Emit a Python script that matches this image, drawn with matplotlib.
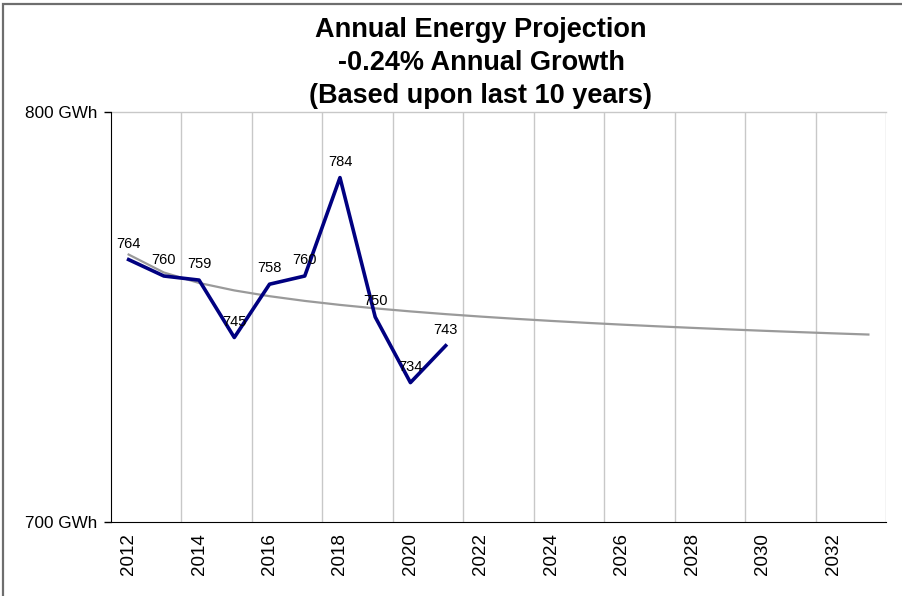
import matplotlib
matplotlib.use("Agg")
import matplotlib.pyplot as plt
import matplotlib.patches as patches
import numpy as np

plt.rcParams['font.family'] = ['Liberation Sans', 'DejaVu Sans']

# data
years = list(range(2012, 2034))
actual_years = list(range(2012, 2022))
actual = [764, 760, 759, 745, 758, 760, 784, 750, 734, 743]

title_lines = ["Annual Energy Projection", "-0.24% Annual Growth", "(Based upon last 10 years)"]
y_ticks = [700, 800]
y_ticklabels = ["700 GWh", "800 GWh"]

# logarithmic trendline fitted to the actual values (as Excel does)
xa = np.arange(1, len(actual) + 1)
b, a = np.polyfit(np.log(xa), actual, 1)
xt = np.arange(1, len(years) + 1)
trend = a + b * np.log(xt)

fig = plt.figure(figsize=(9.03, 5.96), dpi=100)
ax = fig.add_axes([111 / 903, 1 - 522 / 596, 775 / 903, 410 / 596])

pos = np.arange(len(years))
ax.plot(pos, trend, color="#9a9a9a", lw=1.6, zorder=2)
ax.plot(pos[:len(actual)], actual, color="#000080", lw=2.6, zorder=3)

for i, v in enumerate(actual):
    ax.annotate(str(v), (pos[i], v), xytext=(0, 8.5), textcoords="offset points",
                ha="center", va="baseline", fontsize=10.5, color="black", zorder=4)

ax.set_xlim(-0.5, len(years) - 0.5)
ax.set_ylim(700, 800)

# vertical gridlines every two categories on the boundaries
for g in np.arange(1.5, len(years), 2):
    ax.axvline(g, color="#c8c8c8", lw=1, zorder=1)
ax.axhline(800, color="#c8c8c8", lw=1, zorder=1, clip_on=False)

ax.set_xticks(pos[::2])
ax.set_xticklabels([str(y) for y in years[::2]], rotation=90, fontsize=13.5)
ax.tick_params(axis="x", length=0, pad=8)
ax.set_yticks(y_ticks)
ax.set_yticklabels(y_ticklabels, fontsize=12.3)
ax.tick_params(axis="y", length=5, width=1, direction="out", pad=5)

for s in ["top", "right"]:
    ax.spines[s].set_visible(False)
ax.spines["left"].set_color("black")
ax.spines["bottom"].set_color("black")

for k, line in enumerate(title_lines):
    fig.text(481 / 903, 1 - (37 + 33 * k) / 596, line, ha="center", va="baseline",
             fontsize=19.5, fontweight="bold")

# outer chart border
fig.add_artist(patches.Rectangle((3 / 903, -0.02), 1.05, 1 - 4 / 596 + 0.02,
                                 transform=fig.transFigure, fill=False,
                                 edgecolor="#6e6e6e", lw=1.6, clip_on=False))

plt.savefig("out.png", dpi=100)
